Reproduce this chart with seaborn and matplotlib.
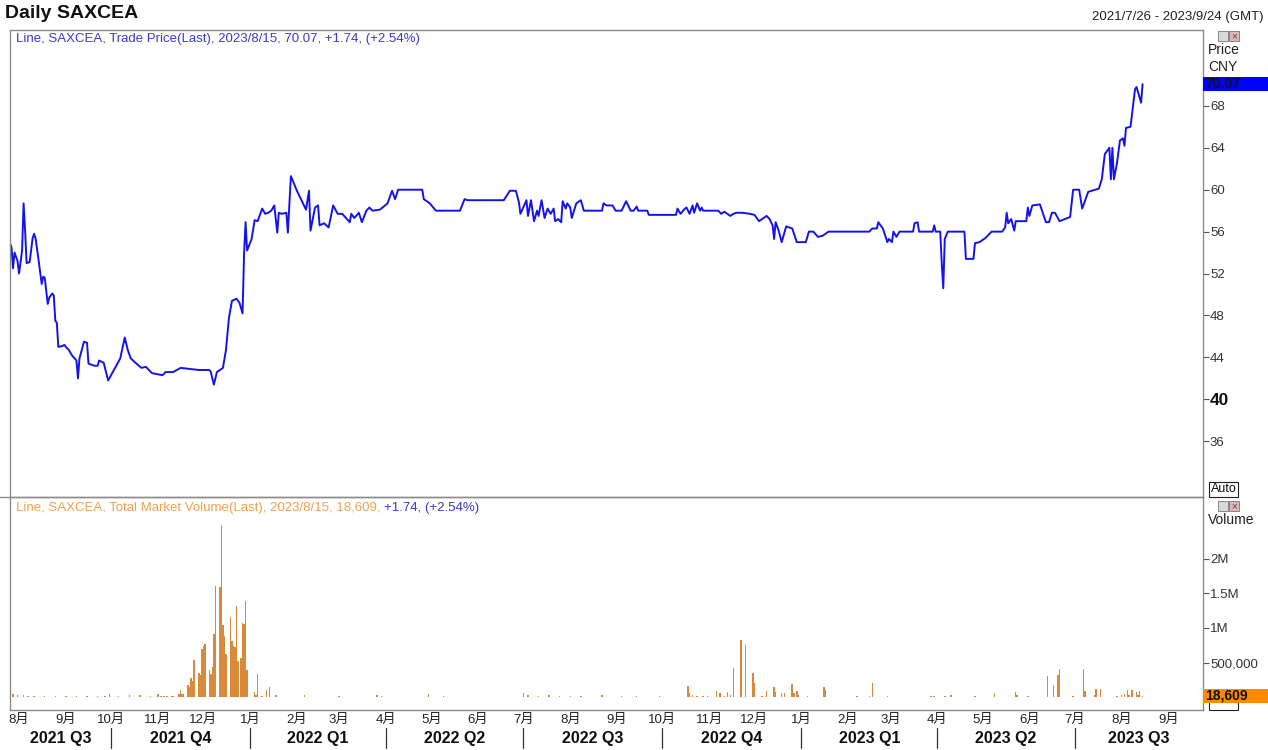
import pandas as pd
import matplotlib
matplotlib.use('Agg')
import matplotlib.pyplot as plt
from matplotlib.patches import Rectangle
from matplotlib.lines import Line2D
import seaborn as sns

sns.set_theme(style='white')
plt.rcParams['font.family'] = ['Liberation Sans', 'Noto Sans CJK SC', 'DejaVu Sans']

start = pd.Timestamp('2021-07-26')
end = pd.Timestamp('2023-09-24')

# trade price (CNY), days counted from 2021-07-26
price_day = [0, 1, 2, 3, 5, 6, 8, 9, 10, 11,
             13, 15, 16, 17, 19, 21, 22, 23, 25, 26,
             28, 29, 30, 31, 32, 35, 36, 37, 39, 41,
             44, 45, 46, 49, 51, 52, 56, 58, 59, 62,
             65, 73, 76, 78, 80, 83, 87, 90, 92, 94,
             101, 103, 108, 113, 119, 125, 132, 133, 135, 137,
             141, 143, 145, 147, 150, 152, 154, 155, 156, 157,
             160, 162, 164, 167, 169, 171, 173, 175, 177, 178,
             180, 183, 184, 186, 190, 196, 198, 199, 202, 204,
             205, 208, 211, 214, 217, 220, 225, 226, 228, 231,
             233, 236, 238, 240, 245, 250, 253, 255, 257, 273,
             274, 278, 282, 298, 301, 303, 327, 331, 335, 337,
             338, 342, 343, 345, 347, 349, 350, 352, 354, 356,
             358, 360, 361, 363, 365, 366, 368, 369, 371, 372,
             375, 378, 380, 392, 393, 395, 399, 401, 405, 408,
             410, 411, 413, 415, 416, 422, 423, 441, 442, 444,
             447, 448, 450, 452, 453, 455, 457, 458, 459, 469,
             471, 473, 477, 479, 481, 485, 490, 493, 496, 501,
             503, 505, 506, 507, 509, 511, 514, 518, 521, 527,
             529, 532, 535, 538, 542, 569, 571, 574, 575, 578,
             581, 582, 584, 585, 587, 589, 598, 599, 601, 602,
             611, 612, 613, 616, 617, 618, 619, 621, 632, 633,
             638, 639, 642, 646, 650, 657, 659, 660, 661, 663,
             665, 666, 673, 674, 675, 677, 682, 686, 688, 690,
             692, 695, 702, 704, 708, 710, 714, 721, 723, 725,
             728, 729, 730, 731, 733, 735, 737, 738, 739, 742,
             745, 746, 749, 750]
price_val = [54.9, 54.5, 52.5, 54.0, 53.2, 52.0, 54.2, 58.7, 56.1, 53.0,
             53.1, 55.4, 55.8, 55.3, 53.2, 51.0, 51.7, 51.6, 49.1, 49.7,
             50.1, 49.9, 47.5, 47.3, 45.0, 45.1, 45.2, 45.0, 44.7, 44.2,
             43.7, 42.0, 43.9, 45.5, 45.4, 43.4, 43.2, 43.2, 43.7, 43.5,
             41.8, 43.9, 45.9, 44.7, 43.9, 43.5, 43.0, 43.1, 42.8, 42.5,
             42.3, 42.6, 42.6, 43.0, 42.9, 42.8, 42.8, 42.6, 41.4, 42.6,
             43.0, 44.7, 47.8, 49.4, 49.6, 49.2, 48.2, 53.9, 56.9, 54.2,
             55.3, 57.1, 57.0, 58.2, 57.7, 57.8, 58.0, 58.5, 55.9, 57.8,
             57.7, 57.8, 55.9, 61.3, 59.9, 58.1, 59.9, 56.1, 58.3, 58.5,
             56.6, 56.8, 56.4, 58.5, 57.7, 57.7, 56.9, 57.7, 57.3, 57.8,
             56.9, 58.0, 58.3, 58.0, 58.1, 58.7, 59.9, 59.1, 60.0, 60.0,
             59.1, 58.7, 58.0, 58.0, 59.1, 59.0, 59.0, 59.9, 59.9, 58.8,
             57.7, 59.0, 57.5, 59.0, 57.0, 58.0, 57.5, 59.0, 57.3, 58.2,
             57.7, 58.2, 57.0, 57.2, 56.9, 58.9, 58.2, 58.7, 58.3, 57.3,
             58.7, 59.0, 58.0, 58.0, 58.7, 58.5, 58.5, 58.0, 58.0, 58.9,
             58.3, 58.0, 58.0, 58.4, 58.0, 58.0, 57.6, 57.6, 58.2, 57.7,
             58.2, 58.3, 57.7, 58.5, 57.8, 58.7, 58.0, 58.3, 58.0, 58.0,
             57.7, 57.9, 57.5, 57.7, 57.8, 57.8, 57.7, 57.6, 57.0, 57.5,
             57.2, 56.6, 55.3, 56.9, 56.1, 55.0, 56.5, 56.3, 55.0, 55.0,
             56.0, 56.0, 55.5, 55.6, 56.0, 56.0, 56.3, 56.3, 56.9, 56.3,
             55.0, 55.3, 55.0, 56.0, 55.5, 56.0, 56.0, 56.8, 56.9, 56.0,
             56.0, 56.6, 56.0, 56.0, 53.0, 50.6, 55.3, 56.0, 56.0, 53.4,
             53.4, 54.9, 55.0, 55.4, 56.0, 56.0, 56.4, 57.8, 56.8, 57.2,
             56.1, 57.0, 57.0, 58.3, 57.5, 58.5, 58.6, 56.9, 56.9, 57.8,
             57.8, 57.0, 57.4, 60.0, 60.0, 58.2, 59.8, 60.1, 61.0, 63.4,
             64.0, 61.0, 64.0, 61.0, 62.5, 64.7, 64.9, 64.2, 65.9, 66.0,
             69.6, 69.8, 68.3, 70.07]

# total market volume, days counted from 2021-07-26
vol_day = [2, 5, 9, 12, 16, 23, 30, 37, 44, 51,
           58, 63, 66, 72, 79, 86, 93, 98, 100, 102,
           104, 107, 108, 112, 113, 114, 115, 118, 119, 120,
           121, 122, 125, 126, 127, 128, 129, 132, 133, 134,
           135, 136, 139, 140, 141, 142, 143, 146, 147, 148,
           149, 150, 151, 153, 154, 155, 156, 157, 162, 163,
           164, 167, 170, 172, 176, 195, 218, 243, 246, 277,
           287, 340, 343, 350, 357, 364, 371, 378, 392, 405,
           415, 430, 442, 449, 450, 452, 455, 459, 462, 468,
           470, 473, 475, 477, 479, 484, 487, 492, 493, 498,
           501, 506, 507, 511, 513, 518, 519, 521, 522, 528,
           539, 540, 561, 569, 571, 581, 610, 612, 619, 623,
           639, 652, 666, 667, 674, 687, 691, 694, 695, 704,
           711, 712, 718, 719, 722, 733, 736, 738, 740, 741,
           743, 746, 747, 748, 750]
vol_val = [40000, 25000, 30000, 20000, 15000, 20000, 12000, 15000, 10000, 12000,
           15000, 20000, 40000, 15000, 25000, 30000, 20000, 40000, 15000, 15000,
           20000, 15000, 10000, 40000, 100000, 50000, 40000, 176000, 147000, 279000,
           235000, 529000, 353000, 323000, 691000, 735000, 765000, 397000, 338000, 441000,
           912000, 1600000, 1590000, 2490000, 1040000, 882000, 618000, 1150000, 809000, 735000,
           720000, 1320000, 515000, 559000, 1070000, 1060000, 1380000, 397000, 74000, 29000,
           338000, 10000, 103000, 147000, 29000, 30000, 15000, 25000, 10000, 40000,
           10000, 60000, 30000, 20000, 25000, 15000, 20000, 10000, 25000, 15000,
           20000, 10000, 5000, 167000, 62000, 38000, 24000, 14000, 14000, 95000,
           53000, 24000, 72000, 33000, 415000, 826000, 754000, 349000, 205000, 14000,
           95000, 148000, 72000, 53000, 53000, 196000, 53000, 95000, 38000, 14000,
           148000, 110000, 14000, 24000, 205000, 14000, 10000, 10000, 14000, 38000,
           14000, 53000, 72000, 38000, 14000, 301000, 181000, 325000, 406000, 14000,
           406000, 86000, 38000, 119000, 119000, 14000, 38000, 48000, 110000, 38000,
           110000, 72000, 38000, 86000, 18609]

price_ticks = [36, 40, 44, 48, 52, 56, 60, 64, 68]
vol_ticks = [500000, 1000000, 1500000, 2000000]
vol_tick_labels = ['500,000', '1M', '1.5M', '2M']
quarters = ['2021 Q3', '2021 Q4', '2022 Q1', '2022 Q2', '2022 Q3',
            '2022 Q4', '2023 Q1', '2023 Q2', '2023 Q3']
quarter_start = ['2021-07-01', '2021-10-01', '2022-01-01', '2022-04-01', '2022-07-01',
                 '2022-10-01', '2023-01-01', '2023-04-01', '2023-07-01']

price = pd.DataFrame({'date': start + pd.to_timedelta(price_day, unit='D'), 'price': price_val})
vol = pd.DataFrame({'date': start + pd.to_timedelta(vol_day, unit='D'), 'volume': vol_val})

W, H = 1268, 750
fig = plt.figure(figsize=(W / 100, H / 100), dpi=100)


def fbox(x0, y0, x1, y1):
    return [x0 / W, 1 - y1 / H, (x1 - x0) / W, (y1 - y0) / H]


ax1 = fig.add_axes(fbox(10, 30, 1203, 497))
ax2 = fig.add_axes(fbox(10, 497, 1203, 710))

blue = '#1414e8'
orange = '#d9893a'
edge = '#8c8c8c'

# price panel
sns.lineplot(data=price, x='date', y='price', ax=ax1, color=blue, linewidth=1.4, estimator=None)
ax1.set_xlim(start, end)
ax1.set_ylim(30.68, 75.24)
ax1.set_xticks([])
ax1.set_xlabel('')
ax1.set_ylabel('')
ax1.yaxis.tick_right()
ax1.set_yticks(price_ticks)
ax1.set_yticklabels([str(t) for t in price_ticks])
ax1.tick_params(axis='y', direction='out', length=4, width=0.8, color='#555555',
                labelsize=9.5, labelcolor='#333333', pad=1)
for lab in ax1.get_yticklabels():
    if lab.get_text() == '40':
        lab.set_fontweight('bold')
        lab.set_fontsize(12.5)
        lab.set_color('#111111')

# volume panel
ax2.bar(vol['date'], vol['volume'], width=1.0, color=orange, linewidth=0)
ax2.set_xlim(start, end)
ax2.set_ylim(-185000, 2887000)
ax2.yaxis.tick_right()
ax2.set_yticks(vol_ticks)
ax2.set_yticklabels(vol_tick_labels)
ax2.tick_params(axis='y', direction='out', length=4, width=0.8, color='#555555',
                labelsize=9.5, labelcolor='#333333', pad=1)
months = pd.date_range('2021-08-01', '2023-09-01', freq='MS')
ax2.set_xticks(months)
ax2.set_xticklabels([f'{m.month}月' for m in months])
ax2.tick_params(axis='x', direction='out', length=2, width=0.8, color='#555555',
                labelsize=9.5, labelcolor='#222222', pad=1)
ax2.set_xlabel('')
ax2.set_ylabel('')

for ax in (ax1, ax2):
    for s in ax.spines.values():
        s.set_color(edge)
        s.set_linewidth(1)

# quarter band under the month labels
xt = ax2.get_xaxis_transform()
qs = pd.to_datetime(quarter_start)
for i, q in enumerate(quarters):
    a = max(qs[i], start)
    b = min(qs[i] + pd.offsets.QuarterBegin(startingMonth=1), end)
    ax2.text(a + (b - a) / 2, -0.132, q, transform=xt, ha='center', va='center',
             fontsize=11.5, fontweight='bold', color='#111111')
    if qs[i] > start:
        ax2.add_line(Line2D([qs[i], qs[i]], [-0.085, -0.18], transform=xt,
                            color='#333333', linewidth=0.9, clip_on=False))

# legends inside panels
ax1.text(6 / 1193, 1 - 9 / 467, 'Line, SAXCEA, Trade Price(Last), 2023/8/15, 70.07, +1.74, (+2.54%)',
         transform=ax1.transAxes, ha='left', va='center', fontsize=9.5, color='#3a3ad0')
t = ax2.text(6 / 1193, 1 - 11 / 213, 'Line, SAXCEA, Total Market Volume(Last), 2023/8/15, 18,609, ',
             transform=ax2.transAxes, ha='left', va='center', fontsize=9.5, color='#f0a050')
fig.canvas.draw()
bb = t.get_window_extent()
fig.text(bb.x1 / W, bb.y0 / H + bb.height / H / 2, '+1.74, (+2.54%)',
         ha='left', va='center', fontsize=9.5, color='#3a3ad0')

# header texts
fig.text(5 / W, 1 - 13 / H, 'Daily SAXCEA', ha='left', va='center', fontsize=14,
         fontweight='bold', color='#111111')
fig.text(1263 / W, 1 - 17 / H, '2021/7/26 - 2023/9/24 (GMT)', ha='right', va='center',
         fontsize=9.5, color='#222222')

# right side labels
fig.text(1208 / W, 1 - 50 / H, 'Price', ha='left', va='center', fontsize=10, color='#222222')
fig.text(1208 / W, 1 - 67 / H, 'CNY', ha='left', va='center', fontsize=10, color='#222222')
fig.text(1208 / W, 1 - 520 / H, 'Volume', ha='left', va='center', fontsize=10, color='#222222')

# last value box, price
yt1 = ax1.get_yaxis_transform()
ax1.add_patch(Rectangle((1.0, price_val[-1] - 0.67), 65 / 1193, 1.34, transform=yt1,
                        clip_on=False, facecolor='#0000ff', edgecolor='none', zorder=5))
ax1.text(1.0 + 2 / 1193, price_val[-1], f'{price_val[-1]:.2f}', transform=yt1, ha='left',
         va='center', fontsize=10, fontweight='bold', color='#101020', zorder=6)

# "Auto" boxes (the volume one sits behind the last value box)
fig.patches.append(Rectangle((1209 / W, 1 - 497 / H), 29 / W, 15 / H, transform=fig.transFigure,
                             facecolor='white', edgecolor='#222222', linewidth=0.8))
fig.text(1223.5 / W, 1 - 489.5 / H, 'Auto', ha='center', va='center', fontsize=9, color='#111111')
fig.patches.append(Rectangle((1209 / W, 1 - 710 / H), 29 / W, 15 / H, transform=fig.transFigure,
                             facecolor='white', edgecolor='#222222', linewidth=0.8, zorder=1))

# last value box, volume
yt2 = ax2.get_yaxis_transform()
ax2.add_patch(Rectangle((1.0, vol_val[-1] - 101000), 65 / 1193, 202000, transform=yt2,
                        clip_on=False, facecolor='#ff8a00', edgecolor='none', zorder=5))
ax2.text(1.0 + 2 / 1193, vol_val[-1], f'{vol_val[-1]:,}', transform=yt2, ha='left',
         va='center', fontsize=10, fontweight='bold', color='#101010', zorder=6)
ax2.set_zorder(2)
ax2.patch.set_alpha(0)

# small window buttons
for yy in (31, 501):
    fig.patches.append(Rectangle((1218 / W, 1 - (yy + 10) / H), 10 / W, 10 / H, transform=fig.transFigure,
                                 facecolor='#d8d8d8', edgecolor='#777777', linewidth=0.6))
    fig.patches.append(Rectangle((1229 / W, 1 - (yy + 10) / H), 10 / W, 10 / H, transform=fig.transFigure,
                                 facecolor='#d8b8b8', edgecolor='#777777', linewidth=0.6))
    fig.text(1234 / W, 1 - (yy + 5) / H, '×', ha='center', va='center', fontsize=7, color='#883333')

# separator extending left of the panels
fig.add_artist(Line2D([0, 10 / W], [1 - 497 / H, 1 - 497 / H], transform=fig.transFigure,
                      color=edge, linewidth=1))

fig.savefig('out.png', dpi=100, facecolor='white')
